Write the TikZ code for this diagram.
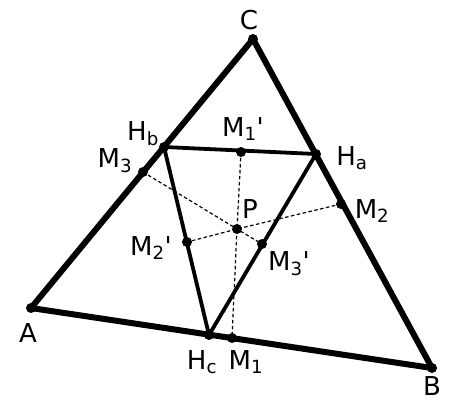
\documentclass[tikz,border=0pt]{standalone}
\usepackage{fontspec}
\setmainfont{DejaVu Sans}
\begin{document}
\begin{tikzpicture}[x=1pt,y=-1pt,
  thickside/.style={line width=6pt,line cap=round,line join=round},
  orthic/.style={line width=3.8pt,line cap=round,line join=round},
  dashline/.style={line width=1.2pt,dash pattern=on 3.5pt off 2.5pt},
  pt/.style={circle,fill=black,inner sep=0pt,minimum size=10pt},
  lab/.style={font=\fontsize{26}{28}\selectfont,inner sep=0pt}]
\useasboundingbox (0,0) rectangle (449,405);
\coordinate (A) at (31,308);
\coordinate (B) at (432,368);
\coordinate (C) at (253,39);
\coordinate (Hb) at (164,147);
\coordinate (Ha) at (316,154);
\coordinate (Hc) at (209,335);
\coordinate (M1) at (232,338);
\coordinate (M2) at (341,204);
\coordinate (M3) at (143,172);
\coordinate (M1p) at (241,152);
\coordinate (M2p) at (187,242);
\coordinate (M3p) at (262,244);
\coordinate (P) at (237,229);
% dashed lines
\draw[dashline] (M1p) -- (P) -- (M1);
\draw[dashline] (M2) -- (P) -- (M2p);
\draw[dashline] (M3) -- (P) -- (M3p);
% triangles
\draw[thickside] (A) -- (B) -- (C) -- cycle;
\draw[orthic] (Ha) -- (Hb) -- (Hc) -- cycle;
% points
\foreach \p in {A,B,C,Ha,Hb,Hc,M1,M2,M3,M1p,M2p,M3p,P}
  \node[pt] at (\p) {};
% labels
\node[lab] (lC) at (249,20) {C};
\node[lab] (lA) at (28,333) {A};
\node[lab] (lB) at (432,386) {B};
\node[lab] (lHb) at (143,134) {H\textsubscript{b}};
\node[lab] (lM3) at (115,161) {M\textsubscript{3}};
\node[lab] (lM1p) at (243,129) {M\textsubscript{1}\textquotesingle};
\node[lab] (lHa) at (352,158) {H\textsubscript{a}};
\node[lab] (lM2) at (372,211) {M\textsubscript{2}};
\node[lab] (lP) at (250,209) {P};
\node[lab] (lM2p) at (151,248) {M\textsubscript{2}\textquotesingle};
\node[lab] (lM3p) at (289,264) {M\textsubscript{3}\textquotesingle};
\node[lab] (lHc) at (202,362) {H\textsubscript{c}};
\node[lab] (lM1) at (246,362) {M\textsubscript{1}};
\end{tikzpicture}
\end{document}
